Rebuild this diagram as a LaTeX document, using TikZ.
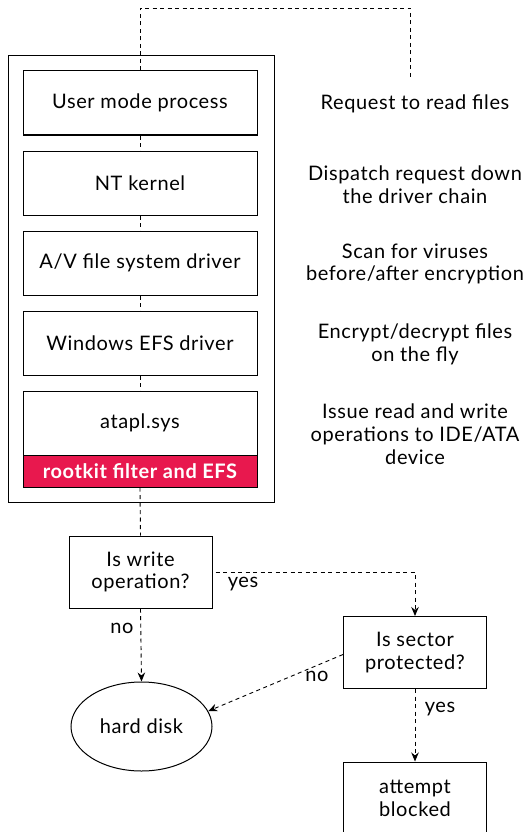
\documentclass[tikz,border=0pt]{standalone}
\usepackage{fontspec}
\setmainfont{Lato}[LetterSpace=3]
\usetikzlibrary{arrows.meta,shapes.geometric}
\definecolor{rkred}{RGB}{232,24,78}
\begin{document}
\begin{tikzpicture}[x=1pt,y=-1pt,
  every node/.style={font=\fontsize{20}{22.8}\selectfont},
  box/.style={draw,line width=1pt,minimum width=234pt,minimum height=64pt,inner sep=0pt},
  qbox/.style={draw,line width=1pt,minimum width=143pt,minimum height=72pt,inner sep=0pt,align=center},
  dline/.style={line width=0.9pt,dash pattern=on 4pt off 3.5pt},
  arr/.style={dline,-{Stealth[length=9pt,width=7.5pt]}},
  note/.style={align=center,inner sep=0pt},
  lbl/.style={inner sep=0pt}]
\useasboundingbox (0,0) rectangle (528,832);
\clip (0,0) rectangle (528,832);
% outer frame
\node[draw,line width=1pt,minimum width=266pt,minimum height=446pt,inner sep=0pt] (outer) at (141,279) {};
% driver stack
\node[box] (ump) at (140,103) {User mode process};
\node[box] (nt)  at (140,183) {NT kernel};
\node[box] (av)  at (140,263) {A/V file system driver};
\node[box] (efs) at (140,343) {Windows EFS driver};
\node[box,fill=rkred,minimum height=32pt,text=white,font=\fontsize{20}{22.8}\selectfont\bfseries] (rk) at (140,471) {rootkit filter and EFS};
\node[box] (ata) at (140,423) {atapl.sys};
% top loop
\coordinate (tl) at (140,8);
\coordinate (tr) at (410,8);
\coordinate (te) at (410,80);
\draw[dline] (ump.north) -- (tl) -- (tr) -- (te);
% stack connectors
\draw[dline] (ump.south) -- (nt.north);
\draw[dline] (nt.south) -- (av.north);
\draw[dline] (av.south) -- (efs.north);
\draw[dline] (efs.south) -- (ata.north);
% notes
\node[note] (n1) at (415,104) {Request to read files};
\node[note] (n2) at (415,185) {Dispatch request down\\the driver chain};
\node[note] (n3) at (415,264) {Scan for viruses\\before/after encryption};
\node[note] (n4) at (415,344) {Encrypt/decrypt files\\on the fly};
\node[note] (n5) at (415,434) {Issue read and write\\operations to IDE/ATA\\device};
% decision flow
\node[qbox] (wr) at (140.5,572) {Is write\\operation?};
\node[qbox] (sec) at (415,652.5) {Is sector\\protected?};
\node[qbox] (blk) at (415,798) {attempt\\blocked};
\node[draw,ellipse,line width=1pt,minimum width=141pt,minimum height=89pt,inner sep=0pt] (disk) at (141.5,726.5) {hard disk};
\draw[dline] (rk.south) -- (wr.north);
\draw[arr] ([xshift=3pt]wr.east) -| (sec.north);
\draw[arr] (wr.south) -- (disk.north);
\draw[arr] ([yshift=-2pt]sec.west) -- (disk.13);
\draw[arr] (sec.south) -- (blk.north);
\node[lbl] (y1) at (243,584) {yes};
\node[lbl] (n1l) at (122,628) {no};
\node[lbl] (n2l) at (317,676) {no};
\node[lbl] (y2) at (440,709) {yes};
\end{tikzpicture}
\end{document}
